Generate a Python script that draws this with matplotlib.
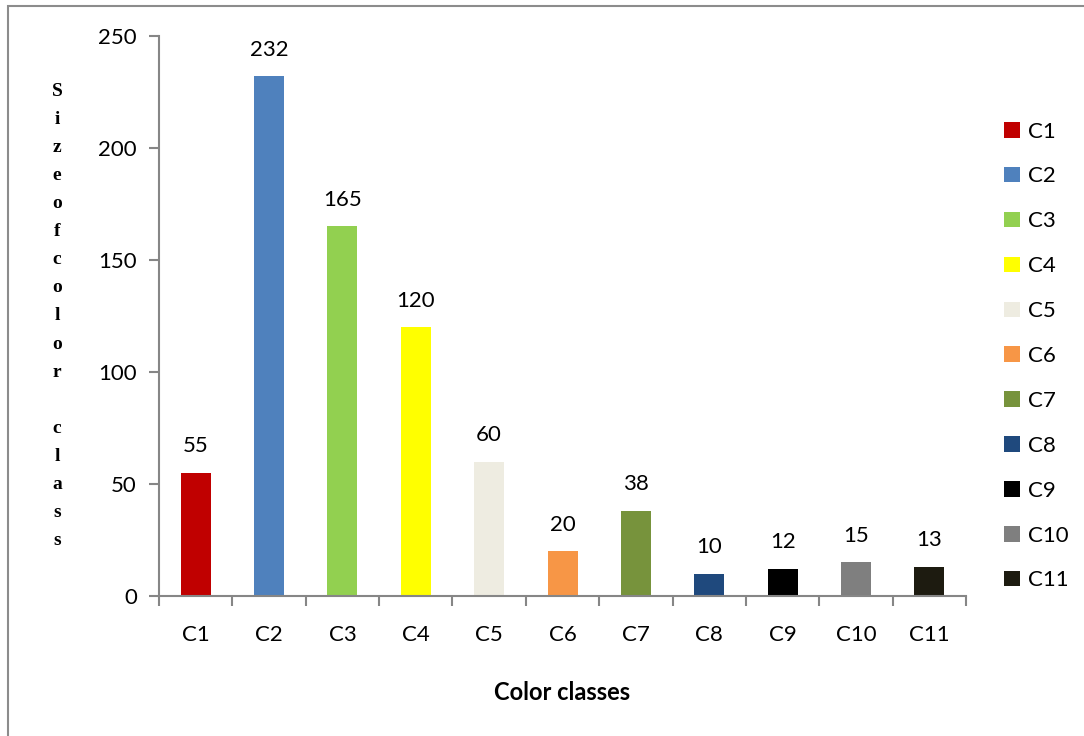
import matplotlib
matplotlib.use("Agg")
import matplotlib.pyplot as plt
from matplotlib.patches import Rectangle
import numpy as np

# data
classes = ["C1", "C2", "C3", "C4", "C5", "C6", "C7", "C8", "C9", "C10", "C11"]
sizes = [55, 232, 165, 120, 60, 20, 38, 10, 12, 15, 13]
colors = ["#C00000", "#4F81BD", "#92D050", "#FFFF00", "#EEECE1", "#F79646",
          "#77933C", "#1F497D", "#000000", "#7F7F7F", "#1D1B10"]
y_ticks = [0, 50, 100, 150, 200, 250]

plt.rcParams['font.family'] = ['Lato', 'DejaVu Sans']
axis_gray = "#868686"
fs = 16

fig = plt.figure(figsize=(10.84, 7.36), dpi=100)
ax = fig.add_axes([0.1467, 0.1902, 0.7445, 0.761])

x = np.arange(len(classes))
bars = ax.bar(x, sizes, width=0.41, color=colors, label=classes)

for xi, v in zip(x, sizes):
    ax.annotate(str(v), (xi, v), xytext=(0, 12), textcoords="offset points",
                ha="center", va="bottom", fontsize=fs, color="black")

ax.set_xlim(-0.5, len(classes) - 0.5)
ax.set_ylim(0, 250)
ax.set_yticks(y_ticks)
ax.set_xticks(x)
ax.set_xticklabels(classes)
ax.set_xticks(np.arange(len(classes) + 1) - 0.5, minor=True)
ax.tick_params(axis="x", which="major", length=0, pad=21, labelsize=fs)
ax.tick_params(axis="x", which="minor", length=7, width=1.5, color=axis_gray, direction="out")
ax.tick_params(axis="y", length=7, width=1.5, color=axis_gray, pad=9, labelsize=fs)

for side in ["top", "right"]:
    ax.spines[side].set_visible(False)
for side in ["left", "bottom"]:
    ax.spines[side].set_color(axis_gray)
    ax.spines[side].set_linewidth(1.5)

ax.set_xlabel("Color classes", fontsize=17, fontweight="bold", labelpad=26)

# stacked letters for the y label
ylabel = "\n".join(list("Sizeofcolor") + [" "] + list("class"))
fig.text(57 / 1084, 1 - 316 / 736, ylabel, ha="center", va="center",
         family="Liberation Serif", fontweight="bold", fontsize=14, linespacing=1.85)

leg = ax.legend(handles=bars, labels=classes, loc="center left",
                bbox_to_anchor=(1004 / 1084, 1 - 356 / 736),
                bbox_transform=fig.transFigure, frameon=False, fontsize=fs,
                handlelength=0.7, handleheight=0.7, handletextpad=0.4,
                labelspacing=1.12, borderpad=0, borderaxespad=0)

# outer frame (only top/left visible in the crop)
fig.add_artist(Rectangle((8 / 1084, -0.1), 1.2, 1.1 - 6 / 736,
                         transform=fig.transFigure, fill=False,
                         edgecolor="#8c8c8c", linewidth=1.5))

fig.savefig("out.png", dpi=100)
